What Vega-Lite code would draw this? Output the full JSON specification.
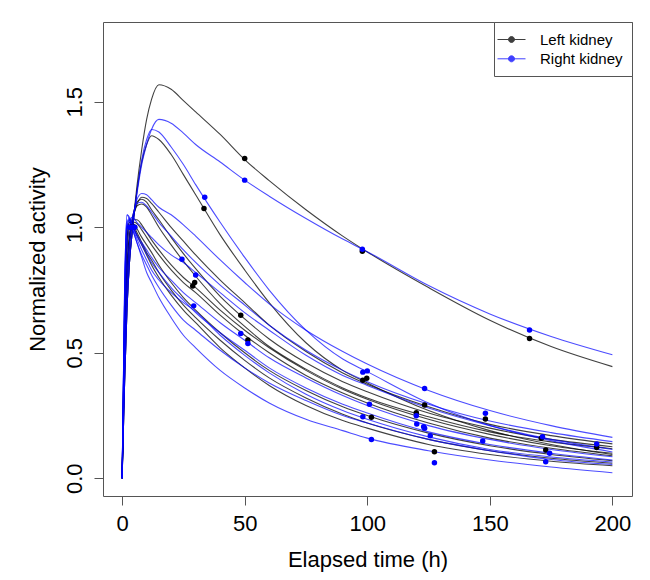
{
  "$schema": "https://vega.github.io/schema/vega-lite/v6.json",
  "width": 529,
  "height": 474,
  "autosize": {"type": "none"},
  "padding": {"left": 103, "top": 22, "right": 18, "bottom": 84},
  "background": "white",
  "config": {
    "view": {"stroke": "#555555", "strokeWidth": 1},
    "font": "Liberation Sans",
    "axis": {
      "domain": false,
      "grid": false,
      "tickColor": "#555555",
      "tickSize": 9,
      "labelColor": "#000000",
      "titleColor": "#000000",
      "labelFont": "Liberation Sans",
      "titleFont": "Liberation Sans",
      "labelFontSize": 22,
      "titleFontSize": 22,
      "titleFontWeight": "normal",
      "labelFlush": false,
      "labelOverlap": false
    }
  },
  "datasets": {
    "black": [
      {"t":0,"B1":0,"B2":0,"B3":0,"B4":0,"B5":0,"B6":0,"B7":0,"B8":0,"B9":0,"B10":0},
      {"t":1,"B1":0.38,"B2":0.38,"B3":0.45,"B4":0.5,"B5":0.5,"B6":0.5,"B7":0.65,"B8":0.65,"B9":0.55,"B10":0.6},
      {"t":2,"B1":0.68,"B2":0.68,"B3":0.75,"B4":0.8,"B5":0.8,"B6":0.8,"B7":0.95,"B8":0.95,"B9":0.85,"B10":0.9},
      {"t":3,"B1":0.86,"B2":0.86,"B3":0.92,"B4":0.95,"B5":0.95,"B6":0.95,"B7":1.02,"B8":1.02,"B9":0.97,"B10":1.0},
      {"t":4,"B1":0.97,"B2":0.97,"B3":1.01,"B4":1.03,"B5":1.02,"B6":1.01,"B7":1.015,"B8":1.01,"B9":1.01,"B10":1.02},
      {"t":5,"B1":1.07,"B2":1.06,"B3":1.06,"B4":1.07,"B5":1.06,"B6":1.03,"B7":1.0,"B8":0.99,"B9":1.02,"B10":1.01},
      {"t":6,"B1":1.16,"B2":1.14,"B3":1.09,"B4":1.1,"B5":1.085,"B6":1.03,"B7":0.98,"B8":0.97,"B9":1.015,"B10":0.995},
      {"t":8,"B1":1.31,"B2":1.26,"B3":1.12,"B4":1.112,"B5":1.093,"B6":1.01,"B7":0.94,"B8":0.93,"B9":0.99,"B10":0.96},
      {"t":10,"B1":1.43,"B2":1.33,"B3":1.115,"B4":1.1,"B5":1.08,"B6":0.98,"B7":0.9,"B8":0.89,"B9":0.96,"B10":0.93},
      {"t":12,"B1":1.51,"B2":1.365,"B3":1.095,"B4":1.07,"B5":1.05,"B6":0.95,"B7":0.87,"B8":0.85,"B9":0.93,"B10":0.9},
      {"t":15,"B1":1.568,"B2":1.35,"B3":1.06,"B4":1.03,"B5":1.0,"B6":0.91,"B7":0.82,"B8":0.8,"B9":0.89,"B10":0.85},
      {"t":20,"B1":1.55,"B2":1.29,"B3":1.0,"B4":0.96,"B5":0.93,"B6":0.85,"B7":0.75,"B8":0.73,"B9":0.83,"B10":0.78},
      {"t":25,"B1":1.505,"B2":1.21,"B3":0.945,"B4":0.895,"B5":0.865,"B6":0.8,"B7":0.69,"B8":0.67,"B9":0.78,"B10":0.72},
      {"t":30,"B1":1.46,"B2":1.13,"B3":0.89,"B4":0.835,"B5":0.805,"B6":0.76,"B7":0.64,"B8":0.62,"B9":0.74,"B10":0.67},
      {"t":40,"B1":1.37,"B2":0.97,"B3":0.79,"B4":0.725,"B5":0.695,"B6":0.67,"B7":0.55,"B8":0.52,"B9":0.65,"B10":0.58},
      {"t":50,"B1":1.27,"B2":0.83,"B3":0.7,"B4":0.635,"B5":0.605,"B6":0.59,"B7":0.47,"B8":0.44,"B9":0.57,"B10":0.5},
      {"t":60,"B1":1.186,"B2":0.7,"B3":0.61,"B4":0.555,"B5":0.525,"B6":0.52,"B7":0.4,"B8":0.37,"B9":0.5,"B10":0.43},
      {"t":75,"B1":1.07,"B2":0.54,"B3":0.505,"B4":0.46,"B5":0.435,"B6":0.43,"B7":0.32,"B8":0.29,"B9":0.41,"B10":0.35},
      {"t":90,"B1":0.965,"B2":0.43,"B3":0.42,"B4":0.385,"B5":0.36,"B6":0.355,"B7":0.255,"B8":0.23,"B9":0.34,"B10":0.285},
      {"t":100,"B1":0.902,"B2":0.38,"B3":0.375,"B4":0.345,"B5":0.32,"B6":0.315,"B7":0.22,"B8":0.2,"B9":0.3,"B10":0.25},
      {"t":125,"B1":0.76,"B2":0.27,"B3":0.285,"B4":0.26,"B5":0.245,"B6":0.235,"B7":0.155,"B8":0.135,"B9":0.22,"B10":0.18},
      {"t":150,"B1":0.63,"B2":0.19,"B3":0.215,"B4":0.2,"B5":0.185,"B6":0.175,"B7":0.11,"B8":0.095,"B9":0.16,"B10":0.13},
      {"t":175,"B1":0.525,"B2":0.135,"B3":0.17,"B4":0.155,"B5":0.145,"B6":0.13,"B7":0.08,"B8":0.068,"B9":0.12,"B10":0.095},
      {"t":200,"B1":0.445,"B2":0.095,"B3":0.137,"B4":0.126,"B5":0.118,"B6":0.1,"B7":0.06,"B8":0.05,"B9":0.09,"B10":0.07}
    ],
    "blue": [
      {"t":0,"R1":0,"R2":0,"R3":0,"R4":0,"R5":0,"R6":0,"R7":0,"R8":0,"R9":0,"R10":0},
      {"t":1,"R1":0.38,"R2":0.38,"R3":0.45,"R4":0.5,"R5":0.75,"R6":0.7,"R7":0.72,"R8":0.7,"R9":0.6,"R10":0.75},
      {"t":2,"R1":0.68,"R2":0.68,"R3":0.75,"R4":0.8,"R5":1.05,"R6":1.0,"R7":1.02,"R8":1.0,"R9":0.9,"R10":1.05},
      {"t":3,"R1":0.86,"R2":0.86,"R3":0.93,"R4":0.95,"R5":1.04,"R6":1.03,"R7":1.035,"R8":1.03,"R9":1.02,"R10":1.03},
      {"t":4,"R1":0.97,"R2":0.97,"R3":1.02,"R4":1.03,"R5":1.01,"R6":1.01,"R7":1.01,"R8":1.0,"R9":1.04,"R10":1.0},
      {"t":5,"R1":1.06,"R2":1.06,"R3":1.07,"R4":1.07,"R5":0.99,"R6":0.99,"R7":0.98,"R8":0.97,"R9":1.035,"R10":0.97},
      {"t":6,"R1":1.13,"R2":1.14,"R3":1.11,"R4":1.095,"R5":0.97,"R6":0.965,"R7":0.955,"R8":0.94,"R9":1.02,"R10":0.94},
      {"t":8,"R1":1.25,"R2":1.27,"R3":1.135,"R4":1.1,"R5":0.94,"R6":0.93,"R7":0.91,"R8":0.89,"R9":1.0,"R10":0.88},
      {"t":10,"R1":1.33,"R2":1.35,"R3":1.13,"R4":1.085,"R5":0.91,"R6":0.895,"R7":0.87,"R8":0.85,"R9":0.98,"R10":0.82},
      {"t":12,"R1":1.39,"R2":1.39,"R3":1.11,"R4":1.06,"R5":0.88,"R6":0.86,"R7":0.83,"R8":0.81,"R9":0.96,"R10":0.78},
      {"t":15,"R1":1.43,"R2":1.38,"R3":1.08,"R4":1.02,"R5":0.84,"R6":0.82,"R7":0.79,"R8":0.76,"R9":0.93,"R10":0.72},
      {"t":20,"R1":1.415,"R2":1.32,"R3":1.05,"R4":0.965,"R5":0.79,"R6":0.76,"R7":0.74,"R8":0.69,"R9":0.89,"R10":0.64},
      {"t":25,"R1":1.375,"R2":1.25,"R3":1.01,"R4":0.91,"R5":0.74,"R6":0.71,"R7":0.7,"R8":0.63,"R9":0.86,"R10":0.57},
      {"t":30,"R1":1.33,"R2":1.17,"R3":0.965,"R4":0.86,"R5":0.7,"R6":0.66,"R7":0.665,"R8":0.59,"R9":0.82,"R10":0.52},
      {"t":40,"R1":1.26,"R2":1.02,"R3":0.87,"R4":0.77,"R5":0.62,"R6":0.58,"R7":0.57,"R8":0.51,"R9":0.74,"R10":0.43},
      {"t":50,"R1":1.188,"R2":0.88,"R3":0.78,"R4":0.69,"R5":0.55,"R6":0.51,"R7":0.49,"R8":0.44,"R9":0.66,"R10":0.36},
      {"t":60,"R1":1.124,"R2":0.75,"R3":0.695,"R4":0.61,"R5":0.48,"R6":0.44,"R7":0.42,"R8":0.38,"R9":0.59,"R10":0.3},
      {"t":75,"R1":1.035,"R2":0.59,"R3":0.59,"R4":0.51,"R5":0.4,"R6":0.36,"R7":0.335,"R8":0.31,"R9":0.49,"R10":0.235},
      {"t":90,"R1":0.953,"R2":0.475,"R3":0.505,"R4":0.43,"R5":0.33,"R6":0.295,"R7":0.27,"R8":0.25,"R9":0.41,"R10":0.19},
      {"t":100,"R1":0.903,"R2":0.425,"R3":0.455,"R4":0.385,"R5":0.29,"R6":0.26,"R7":0.235,"R8":0.22,"R9":0.37,"R10":0.16},
      {"t":125,"R1":0.768,"R2":0.3,"R3":0.35,"R4":0.295,"R5":0.21,"R6":0.185,"R7":0.165,"R8":0.155,"R9":0.28,"R10":0.11},
      {"t":150,"R1":0.655,"R2":0.21,"R3":0.27,"R4":0.228,"R5":0.155,"R6":0.135,"R7":0.115,"R8":0.11,"R9":0.21,"R10":0.073},
      {"t":175,"R1":0.565,"R2":0.15,"R3":0.21,"R4":0.182,"R5":0.115,"R6":0.1,"R7":0.085,"R8":0.075,"R9":0.155,"R10":0.045},
      {"t":200,"R1":0.492,"R2":0.105,"R3":0.163,"R4":0.146,"R5":0.086,"R6":0.073,"R7":0.065,"R8":0.055,"R9":0.115,"R10":0.022}
    ],
    "points": [
      {"k":"Left kidney","t":3.5,"v":1.0},
      {"k":"Left kidney","t":4,"v":1.0},
      {"k":"Left kidney","t":4.5,"v":1.0},
      {"k":"Left kidney","t":5,"v":1.0},
      {"k":"Left kidney","t":33.4,"v":1.075},
      {"k":"Left kidney","t":50,"v":1.274},
      {"k":"Left kidney","t":98,"v":0.905},
      {"k":"Left kidney","t":166.2,"v":0.557},
      {"k":"Left kidney","t":29.6,"v":0.78},
      {"k":"Left kidney","t":28.8,"v":0.766},
      {"k":"Left kidney","t":48.4,"v":0.65},
      {"k":"Left kidney","t":51.3,"v":0.551},
      {"k":"Left kidney","t":98.2,"v":0.391},
      {"k":"Left kidney","t":99.8,"v":0.399},
      {"k":"Left kidney","t":101.7,"v":0.243},
      {"k":"Left kidney","t":120,"v":0.261},
      {"k":"Left kidney","t":123.4,"v":0.292},
      {"k":"Left kidney","t":127.4,"v":0.106},
      {"k":"Left kidney","t":148.2,"v":0.236},
      {"k":"Left kidney","t":171,"v":0.16},
      {"k":"Left kidney","t":172.8,"v":0.113},
      {"k":"Left kidney","t":193.6,"v":0.123},
      {"k":"Right kidney","t":3,"v":1.0},
      {"k":"Right kidney","t":4,"v":1.0},
      {"k":"Right kidney","t":4.5,"v":1.0},
      {"k":"Right kidney","t":5.2,"v":1.0},
      {"k":"Right kidney","t":33.7,"v":1.12},
      {"k":"Right kidney","t":50,"v":1.188},
      {"k":"Right kidney","t":98,"v":0.913},
      {"k":"Right kidney","t":166.2,"v":0.591},
      {"k":"Right kidney","t":24.4,"v":0.873},
      {"k":"Right kidney","t":30,"v":0.81},
      {"k":"Right kidney","t":29.2,"v":0.687},
      {"k":"Right kidney","t":48.4,"v":0.577},
      {"k":"Right kidney","t":51.3,"v":0.537},
      {"k":"Right kidney","t":98.2,"v":0.423},
      {"k":"Right kidney","t":100,"v":0.428},
      {"k":"Right kidney","t":100.9,"v":0.295},
      {"k":"Right kidney","t":98.2,"v":0.245},
      {"k":"Right kidney","t":101.7,"v":0.155},
      {"k":"Right kidney","t":123.4,"v":0.358},
      {"k":"Right kidney","t":120,"v":0.249},
      {"k":"Right kidney","t":120.2,"v":0.216},
      {"k":"Right kidney","t":123,"v":0.205},
      {"k":"Right kidney","t":123.4,"v":0.199},
      {"k":"Right kidney","t":125.7,"v":0.17},
      {"k":"Right kidney","t":127.4,"v":0.062},
      {"k":"Right kidney","t":148.2,"v":0.259},
      {"k":"Right kidney","t":147.1,"v":0.149},
      {"k":"Right kidney","t":171.5,"v":0.166},
      {"k":"Right kidney","t":174.4,"v":0.1},
      {"k":"Right kidney","t":172.8,"v":0.066},
      {"k":"Right kidney","t":193.6,"v":0.137}
    ]
  },
  "layer": [
    {
      "data": {"name": "black"},
      "transform": [{"fold": ["B1","B2","B3","B4","B5","B6","B7","B8","B9","B10"], "as": ["curve","v"]}],
      "mark": {"type": "line", "interpolate": "monotone", "strokeWidth": 1.1, "opacity": 0.75},
      "encoding": {
        "x": {"field": "t", "type": "quantitative", "scale": {"domain": [-7.8, 208], "nice": false, "zero": false},
          "axis": {"title": "Elapsed time (h)", "values": [0,50,100,150,200], "format": "d", "labelBaseline": "alphabetic", "labelPadding": 25, "titleBaseline": "alphabetic", "titleY": 70}},
        "y": {"field": "v", "type": "quantitative", "scale": {"domain": [-0.0705, 1.818], "nice": false, "zero": false},
          "axis": {"title": "Normalized activity", "values": [0,0.5,1,1.5], "format": ".1f", "labelAngle": 270, "labelAlign": "center", "labelBaseline": "alphabetic", "labelPadding": 12.6, "titleAngle": 270, "titleAlign": "center", "titleBaseline": "alphabetic", "titleX": -59, "titleY": 237}},
        "detail": {"field": "curve", "type": "nominal"},
        "color": {"datum": "Left kidney", "type": "nominal", "scale": {"domain": ["Left kidney","Right kidney"], "range": ["#000000","#0000ff"]}}
      }
    },
    {
      "data": {"name": "blue"},
      "transform": [{"fold": ["R1","R2","R3","R4","R5","R6","R7","R8","R9","R10"], "as": ["curve","v"]}],
      "mark": {"type": "line", "interpolate": "monotone", "strokeWidth": 1.1, "opacity": 0.7},
      "encoding": {
        "x": {"field": "t", "type": "quantitative"},
        "y": {"field": "v", "type": "quantitative"},
        "detail": {"field": "curve", "type": "nominal"},
        "color": {"datum": "Right kidney", "type": "nominal"}
      }
    },
    {
      "data": {"name": "points"},
      "mark": {"type": "point", "filled": true, "shape": "circle", "size": 30, "opacity": 1},
      "encoding": {
        "x": {"field": "t", "type": "quantitative"},
        "y": {"field": "v", "type": "quantitative"},
        "color": {"field": "k", "type": "nominal",
          "legend": {
            "title": null,
            "orient": "top-right",
            "offset": 0,
            "padding": 9,
            "strokeColor": "#555555",
            "fillColor": "white",
            "cornerRadius": 0,
            "labelFont": "Liberation Sans",
            "labelFontSize": 15,
            "labelColor": "#000000",
            "labelOffset": 20,
            "rowPadding": 2.3,
            "symbolType": "M-1.75,0L1.75,0M-0.375,0A0.375,0.375 0 1,0 0.375,0A0.375,0.375 0 1,0 -0.375,0Z",
            "symbolSize": 256,
            "symbolStrokeWidth": 1,
            "encode": {"symbols": {"update": {"fill": {"scale": "color", "field": "value"}, "stroke": {"scale": "color", "field": "value"}, "opacity": {"value": 1}}}}
          }
        }
      }
    }
  ]
}
